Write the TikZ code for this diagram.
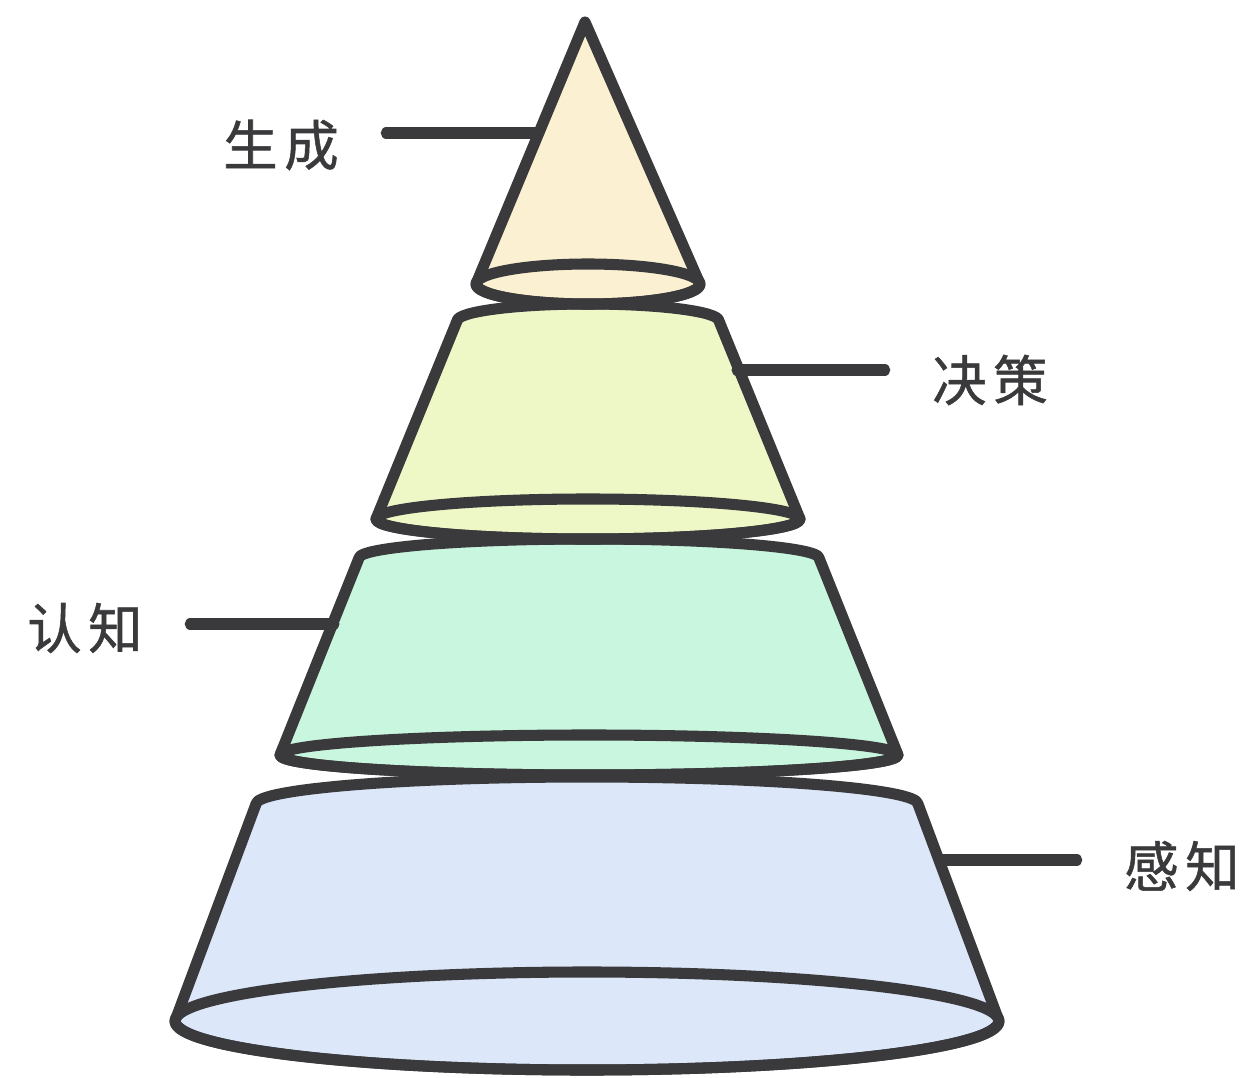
\documentclass[tikz,border=0pt]{standalone}
\usepackage{fontspec}
\newfontfamily\cjk[FakeBold=1]{Noto Sans CJK SC}
\usetikzlibrary{positioning}

\definecolor{ink}{HTML}{3A3A3C}
\definecolor{conefill}{HTML}{FBF1D2}
\definecolor{decfill}{HTML}{EEF8C6}
\definecolor{cogfill}{HTML}{C9F6DF}
\definecolor{perfill}{HTML}{DCE7FA}

% #1 fill, #2 centre x, #3 top y, #4/#5 top radii, #6 bottom y, #7/#8 bottom radii
\newcommand\layer[8]{%
  \path[outline, fill=#1] ({#2-#4},#3) -- ({#2-#7},#6)
    arc[start angle=180, end angle=0, x radius=#7, y radius=#8]
    -- ({#2+#4},#3)
    arc[start angle=0, end angle=-180, x radius=#4, y radius=#5] -- cycle;
  \draw[outline] (#2,#6) ellipse[x radius=#7, y radius=#8];
}

\begin{document}
\begin{tikzpicture}[
			x=0.02cm, y=-0.02cm,
			outline/.style={draw=ink, line width=6.3pt, line join=round},
			leader/.style={draw=ink, line width=6.3pt, line cap=round},
			tag/.style={
				font=\cjk\fontsize{31}{36}\selectfont,
				text=ink,
				inner sep=0pt,
				outer xsep=0.95cm
			}
			]
			\useasboundingbox (0,0) rectangle (1249,1078);
			
			\layer{perfill}{587}{804}{331}{27}{1021}{412}{49}
			\layer{cogfill}{589}{558}{230}{19}{755}{309}{20}
			\layer{decfill}{588}{321}{131}{17}{519}{212}{20}
			
			\path[outline, fill=conefill] (585,22) -- (476,284)
				arc[start angle=180, end angle=0, x radius=112, y radius=20] -- cycle;
			\draw[outline] (588,284) ellipse[x radius=112, y radius=20];
			
			\node[tag] (gen) at (281,145) {生\hspace{0.12em}成};
			\node[tag] (dec) at (990,380) {决\hspace{0.12em}策};
			\node[tag] (cog) at (85,628) {认\hspace{0.12em}知};
			\node[tag] (per) at (1182,866) {感\hspace{0.12em}知};
			
			\coordinate (gentip) at (536,133);
			\coordinate (dectip) at (737,370);
			\coordinate (cogtip) at (334,624);
			\coordinate (pertip) at (941,860);
			
			\draw[leader] (gen.east |- gentip) -- (gentip);
			\draw[leader] (dec.west |- dectip) -- (dectip);
			\draw[leader] (cog.east |- cogtip) -- (cogtip);
			\draw[leader] (per.west |- pertip) -- (pertip);
			
		\end{tikzpicture}
\end{document}
